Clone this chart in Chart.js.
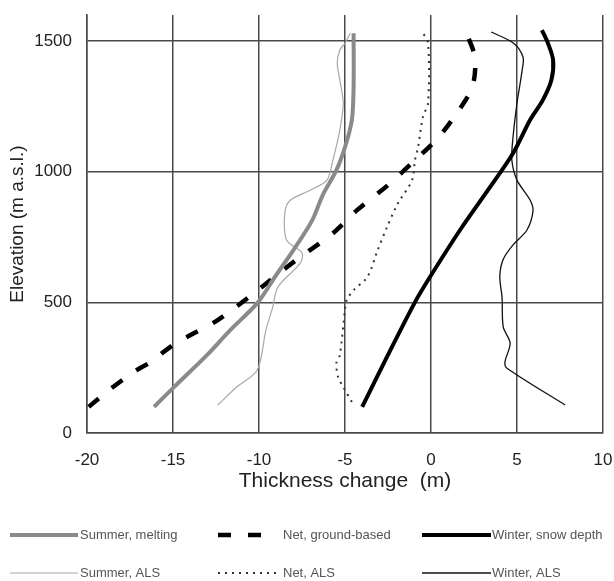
<!DOCTYPE html>
<html>
<head>
<meta charset="utf-8">
<script src="https://cdn.jsdelivr.net/npm/chart.js@4.4.1/dist/chart.umd.min.js"></script>
<style>
  html, body { margin: 0; padding: 0; background: #ffffff; }
  .app { width: 614px; height: 581px; }
</style>
</head>
<body>
<div class="app"><canvas id="profileChart" width="614" height="581"></canvas></div>
<script>
const seriesLabels = ['Summer, melting', 'Net, ground-based', 'Winter, snow depth', 'Summer, ALS', 'Net, ALS', 'Winter, ALS']
const xTicks = [-20, -15, -10, -5, 0, 5, 10]
const yTicks = [0, 500, 1000, 1500]

const summerMeltX = [-16.1, -15.0, -13.0, -11.7, -10.1, -9.05, -8.0, -6.9, -6.3, -5.5, -5.0, -4.6, -4.5, -4.5]
const summerMeltElev = [100, 172, 300, 392, 497, 600, 700, 815, 910, 1006, 1094, 1198, 1324, 1530]

const netGroundX = [-19.9, -18.8, -17.3, -16.4, -15.0, -14.2, -12.4, -10.3, -8.0, -5.7, -4.3, -2.5, -1.05, 0.4, 1.5, 2.4, 2.56, 2.15, 2.0]
const netGroundElev = [100, 160, 233, 268, 337, 367, 432, 535, 654, 765, 853, 949, 1037, 1129, 1224, 1324, 1435, 1516, 1535]

const winterSnowX = [-4.0, -2.56, -0.93, -0.06, 1.69, 3.43, 4.77, 5.76, 6.5, 7.0, 7.1, 6.8, 6.45]
const winterSnowElev = [100, 291, 501, 597, 777, 941, 1071, 1198, 1274, 1351, 1427, 1492, 1542]

const summerAlsX = [-12.4, -11.3, -10.1, -9.6, -9.2, -8.9, -7.6, -7.5, -8.4, -8.5, -8.2, -7.0, -6.05, -5.7, -5.3, -5.1, -5.3, -5.45, -5.3, -5.0, -4.7]
const summerAlsElev = [107, 176, 241, 394, 482, 559, 650, 690, 739, 842, 890, 930, 968, 1045, 1160, 1263, 1350, 1416, 1466, 1492, 1530]

const netAlsX = [-4.6, -5.1, -5.4, -5.5, -5.3, -5.0, -4.9, -4.5, -3.7, -3.1, -2.56, -2.0, -1.8, -1.1, -0.93, -0.75, -0.47, -0.17, -0.17, -0.5]
const netAlsElev = [119, 176, 214, 268, 298, 471, 509, 547, 597, 700, 788, 870, 892, 968, 1045, 1094, 1210, 1263, 1492, 1535]

const winterAlsX = [7.8, 4.4, 4.3, 4.6, 4.2, 4.13, 4.0, 4.2, 4.77, 5.58, 5.93, 5.76, 5.0, 4.7, 4.77, 5.0, 5.3, 5.35, 4.8, 3.5]
const winterAlsElev = [107, 249, 272, 344, 406, 520, 600, 665, 720, 777, 850, 892, 968, 1045, 1133, 1263, 1389, 1439, 1492, 1535]

const toPoints = (xs, ys) => xs.map((x, i) => ({x: x, y: ys[i]}))
const fontFamily = '"Liberation Sans", Arial, sans-serif'
const gridColor = '#4a4a4a'

// legend under the plot, 3 columns x 2 rows like the original
const bottomLegend = {
  id: 'bottomLegend',
  afterDraw(chart) {
    const ctx = chart.ctx
    const lineStart = [10, 218, 422], lineEnd = [78, 278, 491], textStart = [80, 283, 492]
    const rowY = [535, 573]
    chart.data.datasets.forEach((ds, i) => {
      const col = i % 3, row = Math.floor(i / 3)
      ctx.save()
      ctx.strokeStyle = ds.borderColor
      ctx.lineWidth = ds.borderWidth
      ctx.setLineDash(ds.borderDash || [])
      ctx.beginPath()
      ctx.moveTo(lineStart[col], rowY[row])
      ctx.lineTo(lineEnd[col], rowY[row])
      ctx.stroke()
      ctx.setLineDash([])
      ctx.fillStyle = '#555555'
      ctx.font = '13px ' + fontFamily
      ctx.textBaseline = 'middle'
      ctx.fillText(ds.label, textStart[col], rowY[row])
      ctx.restore()
    })
  }
}

const ctx = document.getElementById('profileChart').getContext('2d')
const chart = new Chart(ctx, {
  type: 'line',
  data: {
    datasets: [{
      label: seriesLabels[0],
      data: toPoints(summerMeltX, summerMeltElev),
      borderColor: '#8a8a8a',
      borderWidth: 4,
      tension: 0.3
    }, {
      label: seriesLabels[1],
      data: toPoints(netGroundX, netGroundElev),
      borderColor: '#000000',
      borderWidth: 4.5,
      borderDash: [13, 17],
      tension: 0.3
    }, {
      label: seriesLabels[2],
      data: toPoints(winterSnowX, winterSnowElev),
      borderColor: '#000000',
      borderWidth: 4,
      tension: 0.3
    }, {
      label: seriesLabels[3],
      data: toPoints(summerAlsX, summerAlsElev),
      borderColor: '#a8a8a8',
      borderWidth: 1.2,
      tension: 0.3
    }, {
      label: seriesLabels[4],
      data: toPoints(netAlsX, netAlsElev),
      borderColor: '#333333',
      borderWidth: 2,
      borderDash: [2, 5],
      tension: 0.3
    }, {
      label: seriesLabels[5],
      data: toPoints(winterAlsX, winterAlsElev),
      borderColor: '#111111',
      borderWidth: 1.3,
      tension: 0.3
    }]
  },
  options: {
    responsive: false,
    animation: false,
    elements: { point: { radius: 0 } },
    layout: {
      padding: { left: 0, right: 11, top: 15, bottom: 86 }
    },
    plugins: {
      legend: { display: false },
      tooltip: { enabled: false }
    },
    scales: {
      x: {
        type: 'linear',
        min: -20,
        max: 10,
        afterBuildTicks: s => { s.ticks = xTicks.map(v => ({value: v})) },
        afterFit: s => { s.height = 62; s.paddingLeft = 0; s.paddingRight = 0 },
        grid: { color: gridColor, lineWidth: 1.5, drawTicks: false },
        border: { color: gridColor, width: 1.5 },
        ticks: { color: '#222222', padding: 17, font: { size: 17, family: fontFamily }, callback: v => v },
        title: {
          display: true,
          text: 'Thickness change  (m)',
          color: '#222222',
          padding: { top: 0, bottom: 1 },
          font: { size: 21, family: fontFamily }
        }
      },
      y: {
        type: 'linear',
        min: 0,
        max: 1600,
        afterBuildTicks: s => { s.ticks = yTicks.map(v => ({value: v})) },
        afterFit: s => { s.width = 87; s.paddingTop = 0; s.paddingBottom = 0 },
        grid: { color: gridColor, lineWidth: 1.5, drawTicks: false },
        border: { color: gridColor, width: 1.5 },
        ticks: { color: '#222222', padding: 15, font: { size: 17, family: fontFamily }, callback: v => v },
        title: {
          display: true,
          text: 'Elevation (m a.s.l.)',
          color: '#222222',
          padding: { top: 6, bottom: 0 },
          font: { size: 19, family: fontFamily }
        }
      }
    }
  },
  plugins: [bottomLegend]
})
</script>
</body>
</html>
